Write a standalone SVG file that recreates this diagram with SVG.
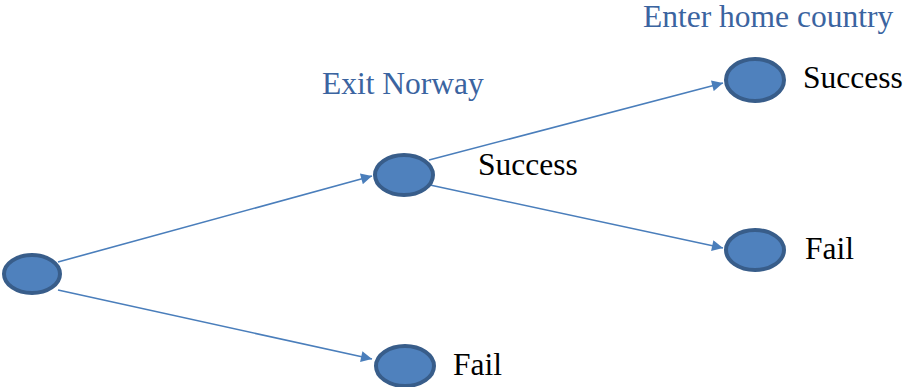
<svg xmlns="http://www.w3.org/2000/svg" width="903" height="387" viewBox="0 0 903 387">
<defs>
<marker id="arr" viewBox="0 0 10 10" refX="10" refY="5" markerWidth="13" markerHeight="11" markerUnits="userSpaceOnUse" orient="auto">
<path d="M0,0 L10,5 L0,10 z" fill="#4A7EBB"/>
</marker>
</defs>
<style>
.node{fill:#4F81BD;stroke:#385D8A;stroke-width:4}
.edge{stroke:#4A7EBB;stroke-width:1.6;fill:none}
text{font-family:"Liberation Serif","DejaVu Serif",serif;font-size:31.5px}
.lbl{fill:#000}
.hdr{fill:#3B64A0}
</style>
<g id="edges">
<path class="edge" d="M58,262 L372,176" marker-end="url(#arr)"/>
<path class="edge" d="M58,290 L372,359" marker-end="url(#arr)"/>
<path class="edge" d="M429,160 L723,83" marker-end="url(#arr)"/>
<path class="edge" d="M430,185 L723,248" marker-end="url(#arr)"/>
</g>
<g id="start"><ellipse class="node" cx="32" cy="274" rx="28" ry="19"/></g>
<g id="exit"><ellipse class="node" cx="404" cy="175" rx="29" ry="20"/><text class="lbl" x="478" y="175" font-family="Liberation Serif, serif">Success</text></g>
<g id="exitfail"><ellipse class="node" cx="405" cy="366" rx="29" ry="20"/><text class="lbl" x="453" y="375" font-family="Liberation Serif, serif">Fail</text></g>
<g id="enter"><ellipse class="node" cx="755" cy="80" rx="29" ry="21"/><text class="lbl" x="803" y="88" font-family="Liberation Serif, serif">Success</text></g>
<g id="enterfail"><ellipse class="node" cx="755" cy="250" rx="29" ry="20"/><text class="lbl" x="805" y="259" font-family="Liberation Serif, serif">Fail</text></g>
<text class="hdr" x="322" y="94">Exit Norway</text>
<text class="hdr" x="643" y="27">Enter home country</text>
</svg>
